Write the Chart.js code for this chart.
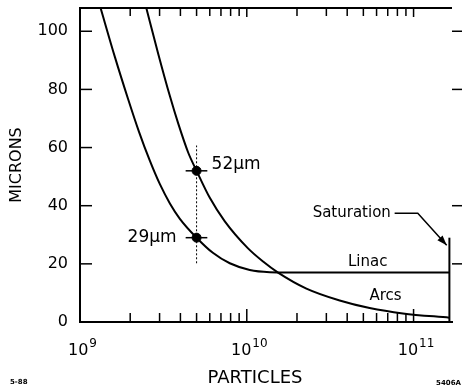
<!DOCTYPE html>
<html>
<head>
<meta charset="utf-8">
<script src="https://cdn.jsdelivr.net/npm/chart.js@4.4.1/dist/chart.umd.min.js"></script>
<style>
  html, body { margin: 0; padding: 0; background: #fff; }
  #wrap { width: 462px; height: 388px; }
</style>
</head>
<body>
<div id="wrap"><canvas id="chart" width="462" height="388"></canvas></div>
<script>
// Curves (particles, microns)
const linacX = [1.318e9, 1.62e9, 1.94e9, 2.256e9, 2.626e9, 3.013e9, 3.459e9, 3.97e9, 5e9, 6.26e9, 7.91e9, 1.042e10, 1.373e10, 1.81e10, 1.64e11];
const linacY = [108.7, 91.1, 76.8, 65.5, 55.4, 47.4, 40.8, 35.5, 29, 23.8, 20.2, 17.9, 17.15, 17.05, 17.0];
const arcsX = [2.48e9, 2.943e9, 3.459e9, 3.879e9, 4.452e9, 5e9, 6.003e9, 7.384e9, 1.014e10, 1.252e10, 1.54e10, 2.278e10, 3.606e10, 5.451e10, 8.63e10, 1.64e11];
const arcsY = [108.7, 92.3, 77.7, 68.3, 58.3, 52.0, 42.7, 34.6, 25.4, 20.8, 17.0, 11.5, 7.4, 4.8, 2.95, 1.5];

// Measured points with error bars
const pointX = [5e9, 5e9];
const pointY = [52, 29];
const pointLabels = ['52\u03BCm', '29\u03BCm'];
const errorBarY = [20.2, 60.7];
const errorBarX = [4.3e9, 5.8e9];

// Saturation limit
const saturationX = [1.64e11, 1.64e11];
const saturationY = [0, 29];

// Axes
const yTicks = [0, 20, 40, 60, 80, 100];
const yRightTicks = [20, 40, 80, 100];
const xMajorTicks = [1e9, 1e10, 1e11];
const xMajorExp = ['9', '10', '11'];
const xMinorTicks = [2e9, 3e9, 4e9, 5e9, 6e9, 7e9, 8e9, 9e9, 2e10, 3e10, 4e10, 5e10, 6e10, 7e10, 8e10, 9e10];

const FONT = 'DejaVu Sans';

function toXY(xs, ys) {
    return xs.map((v, i) => ({ x: v, y: ys[i] }));
}

const curveStyle = {
    borderColor: '#000',
    borderWidth: 2,
    pointRadius: 0,
    fill: false,
    cubicInterpolationMode: 'monotone'
};

// Draws frame, inward ticks, labels and notes
const paperMarks = {
    id: 'paperMarks',
    afterDatasetsDraw(chart) {
        const { ctx, chartArea: a, scales: { x, y } } = chart;
        const seg = (x1, y1, x2, y2) => { ctx.beginPath(); ctx.moveTo(x1, y1); ctx.lineTo(x2, y2); ctx.stroke(); };
        ctx.save();
        ctx.strokeStyle = '#000';
        ctx.fillStyle = '#000';

        ctx.lineWidth = 2;
        seg(a.left, a.top, a.right, a.top);

        ctx.lineWidth = 1.5;
        xMajorTicks.forEach(v => {
            const px = x.getPixelForValue(v);
            seg(px, a.bottom, px, a.bottom - 13);
            seg(px, a.top, px, a.top + 9);
        });
        xMinorTicks.forEach(v => {
            const px = x.getPixelForValue(v);
            seg(px, a.bottom, px, a.bottom - 9);
            seg(px, a.top, px, a.top + 8);
        });
        yTicks.slice(1).forEach(v => {
            const py = y.getPixelForValue(v);
            seg(a.left, py, a.left + 12, py);
        });
        yRightTicks.forEach(v => {
            const py = y.getPixelForValue(v);
            seg(a.right, py, a.right + 10, py);
        });

        // x tick labels with exponents
        ctx.textBaseline = 'alphabetic';
        ctx.textAlign = 'left';
        xMajorTicks.forEach((v, i) => {
            const px = x.getPixelForValue(v);
            ctx.font = '16px ' + FONT;
            const w1 = ctx.measureText('10').width;
            ctx.font = '12px ' + FONT;
            const w2 = ctx.measureText(xMajorExp[i]).width;
            const start = px - (w1 + w2) / 2 + 2;
            ctx.font = '16px ' + FONT;
            ctx.fillText('10', start, a.bottom + 33);
            ctx.font = '12px ' + FONT;
            ctx.fillText(xMajorExp[i], start + w1 + 1, a.bottom + 25);
        });

        // x axis title
        ctx.font = '18px ' + FONT;
        ctx.textAlign = 'center';
        ctx.textBaseline = 'middle';
        ctx.fillText('PARTICLES', (a.left + a.right) / 2 - 11, a.bottom + 56);

        // point labels
        ctx.font = '17px ' + FONT;
        ctx.textAlign = 'left';
        ctx.fillText(pointLabels[0], x.getPixelForValue(pointX[0]) + 15, y.getPixelForValue(pointY[0]) - 6);
        ctx.textAlign = 'right';
        ctx.fillText(pointLabels[1], x.getPixelForValue(pointX[1]) - 20, y.getPixelForValue(pointY[1]));

        // curve labels
        ctx.font = '15px ' + FONT;
        ctx.textAlign = 'center';
        ctx.fillText('Linac', x.getPixelForValue(5.31e10), y.getPixelForValue(20.6));
        ctx.fillText('Arcs', x.getPixelForValue(6.79e10), y.getPixelForValue(8.9));
        ctx.fillText('Saturation', x.getPixelForValue(4.26e10), y.getPixelForValue(37.4));

        // saturation arrow
        const p0 = [x.getPixelForValue(7.7e10), y.getPixelForValue(37.4)];
        const p1 = [x.getPixelForValue(1.06e11), y.getPixelForValue(37.4)];
        const p2 = [x.getPixelForValue(1.58e11), y.getPixelForValue(26.4)];
        ctx.lineWidth = 1.5;
        ctx.beginPath();
        ctx.moveTo(p0[0], p0[1]);
        ctx.lineTo(p1[0], p1[1]);
        ctx.lineTo(p2[0], p2[1]);
        ctx.stroke();
        const ang = Math.atan2(p2[1] - p1[1], p2[0] - p1[0]);
        const len = 10, half = 3.5;
        ctx.beginPath();
        ctx.moveTo(p2[0], p2[1]);
        ctx.lineTo(p2[0] - len * Math.cos(ang) + half * Math.sin(ang), p2[1] - len * Math.sin(ang) - half * Math.cos(ang));
        ctx.lineTo(p2[0] - len * Math.cos(ang) - half * Math.sin(ang), p2[1] - len * Math.sin(ang) + half * Math.cos(ang));
        ctx.closePath();
        ctx.fill();

        // corner notes
        ctx.font = 'bold 7px ' + FONT;
        ctx.textBaseline = 'middle';
        ctx.textAlign = 'left';
        ctx.fillText('5-88', 10, 382);
        ctx.textAlign = 'right';
        ctx.fillText('5406A', 461, 383);
        ctx.restore();
    }
};

const ctx = document.getElementById('chart').getContext('2d');
new Chart(ctx, {
    type: 'line',
    data: {
        datasets: [
            { label: 'Linac', data: toXY(linacX, linacY), ...curveStyle },
            { label: 'Arcs', data: toXY(arcsX, arcsY), ...curveStyle },
            { label: 'Saturation', data: toXY(saturationX, saturationY), borderColor: '#000', borderWidth: 2, pointRadius: 0 },
            { label: 'spread', data: toXY([pointX[0], pointX[0]], errorBarY), borderColor: '#000', borderWidth: 1, borderDash: [2, 2], pointRadius: 0 },
            { label: 'bar52', data: toXY(errorBarX, [pointY[0], pointY[0]]), borderColor: '#000', borderWidth: 1.5, pointRadius: 0 },
            { label: 'bar29', data: toXY(errorBarX, [pointY[1], pointY[1]]), borderColor: '#000', borderWidth: 1.5, pointRadius: 0 },
            { label: 'points', data: toXY(pointX, pointY), showLine: false, pointRadius: 4.5, pointBackgroundColor: '#000', pointBorderColor: '#000' }
        ]
    },
    options: {
        responsive: false,
        animation: false,
        devicePixelRatio: 1,
        layout: { padding: { top: 8, right: 10, left: 0, bottom: 0 } },
        plugins: { legend: { display: false }, tooltip: { enabled: false } },
        scales: {
            x: {
                type: 'logarithmic',
                min: 1e9,
                max: 1.7e11,
                grid: { display: false, drawTicks: false },
                border: { display: true, color: '#000', width: 2 },
                ticks: { display: false },
                afterFit(scale) { scale.height = 66; scale.paddingLeft = 0; scale.paddingRight = 0; }
            },
            y: {
                min: 0,
                max: 108,
                grid: { display: false, drawTicks: false },
                border: { display: true, color: '#000', width: 2 },
                ticks: {
                    stepSize: 20,
                    includeBounds: false,
                    padding: 12,
                    color: '#000',
                    font: { family: FONT, size: 16 }
                },
                title: {
                    display: true,
                    text: 'MICRONS',
                    color: '#000',
                    font: { family: FONT, size: 16 },
                    padding: { top: 7, bottom: 0 }
                },
                afterFit(scale) { scale.width = 80; scale.paddingTop = 0; scale.paddingBottom = 0; }
            }
        }
    },
    plugins: [paperMarks]
});
</script>
</body>
</html>
